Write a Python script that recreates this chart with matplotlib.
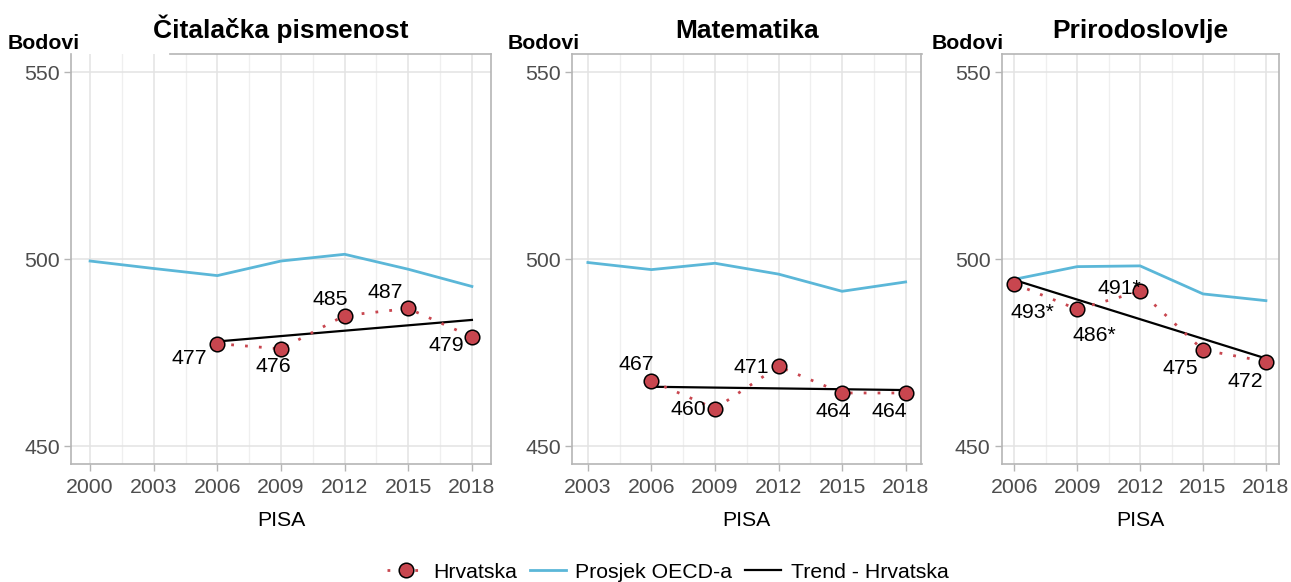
import matplotlib
matplotlib.use("Agg")
import matplotlib.pyplot as plt
import numpy as np
from matplotlib.lines import Line2D
from matplotlib.ticker import FixedLocator
from matplotlib.transforms import ScaledTranslation

plt.rcParams['font.family'] = ['Liberation Sans', 'DejaVu Sans']

# ---------------- data ----------------
titles = ["Čitalačka pismenost", "Matematika", "Prirodoslovlje"]

oecd_years_read = [2000, 2003, 2006, 2009, 2012, 2015, 2018]
oecd_read = [499.5, 497.5, 495.6, 499.5, 501.3, 497.3, 492.7]
oecd_years_math = [2003, 2006, 2009, 2012, 2015, 2018]
oecd_math = [499.1, 497.2, 498.9, 496.0, 491.4, 493.9]
oecd_years_sci = [2006, 2009, 2012, 2015, 2018]
oecd_sci = [494.6, 498.0, 498.2, 490.7, 488.9]

cro_years = [2006, 2009, 2012, 2015, 2018]
cro_read = [477.4, 476.0, 484.9, 486.8, 479.2]
cro_math = [467.4, 460.0, 471.3, 464.2, 464.2]
cro_sci = [493.4, 486.6, 491.4, 475.7, 472.6]

labels_read = ["477", "476", "485", "487", "479"]
labels_math = ["467", "460", "471", "464", "464"]
labels_sci = ["493*", "486*", "491*", "475", "472"]

ticks_read = [2000, 2003, 2006, 2009, 2012, 2015, 2018]
ticks_math = [2003, 2006, 2009, 2012, 2015, 2018]
ticks_sci = [2006, 2009, 2012, 2015, 2018]

# ---------------- style / layout ----------------
W, H = 1291, 582
fig = plt.figure(figsize=(W / 100, H / 100), dpi=100)

# axes boxes in pixels: left, right
boxes = [(71, 491), (572, 921.5), (1001.7, 1278.5)]
top_px, bot_px = 54.3, 464
bodovi_dx = [9, 8, 2]

panels = [
    (oecd_years_read, oecd_read, cro_read, labels_read, ticks_read),
    (oecd_years_math, oecd_math, cro_math, labels_math, ticks_math),
    (oecd_years_sci, oecd_sci, cro_sci, labels_sci, ticks_sci),
]

# label offsets in pixels (dx, dy) relative to point (screen, y up)
offsets = [
    [(-28, -15), (-8, -18), (-14, 16), (-23, 16), (-26, -9)],
    [(-15, 17), (-27, -1), (-27, -1), (-9, -19), (-16, -19)],
    [(18, -29), (17, -26), (-21, 3), (-23, -19), (-21, -20)],
]

FS = 15.3
red = "#C8464F"
blue = "#5BB7D8"
grid_major = "#E3E3E3"
grid_minor = "#EFEFEF"
border = "#B5B5B5"
tickcol = "#4D4D4D"

for i, (oy, ov, cv, labs, ticks) in enumerate(panels):
    l, r = boxes[i]
    ax = fig.add_axes([l / W, (H - bot_px) / H, (r - l) / W, (bot_px - top_px) / H])
    span = ticks[-1] - ticks[0]
    ax.set_xlim(ticks[0] - 0.05 * span, ticks[-1] + 0.05 * span)
    ax.set_ylim(445.2, 554.8)
    ax.set_xticks(ticks)
    ax.set_xticklabels([str(t) for t in ticks])
    ax.xaxis.set_minor_locator(FixedLocator([t + 1.5 for t in ticks[:-1]]))
    ax.set_yticks([450, 500, 550])
    ax.grid(True, which='major', color=grid_major, lw=1.1, zorder=0)
    ax.grid(True, which='minor', axis='x', color=grid_minor, lw=0.9, zorder=0)
    ax.tick_params(axis='both', which='major', labelsize=FS, labelcolor=tickcol,
                   color=border, length=5, width=1.0)
    ax.tick_params(axis='x', which='major', pad=5)
    ax.tick_params(axis='y', which='major', pad=3)
    ax.tick_params(axis='x', which='minor', length=0)
    for s in ax.spines.values():
        s.set_color(border)
        s.set_linewidth(1.2)
    if i == 0:
        ax.spines['top'].set_visible(False)
        ax.add_line(Line2D([0.236, 1], [1, 1], transform=ax.transAxes, color=border,
                           lw=1.2, clip_on=False))
    ax.set_axisbelow(True)

    # OECD line
    ax.plot(oy, ov, color=blue, lw=2.0, zorder=2)
    # trend line (linear fit of Croatia's scores)
    coef = np.polyfit(cro_years, cv, 1)
    xt = np.array([cro_years[0], cro_years[-1]])
    ax.plot(xt, np.polyval(coef, xt), color="black", lw=1.6, zorder=3)
    # Croatia
    ax.plot(cro_years, cv, color=red, lw=2.0, ls=(0, (1, 4)), zorder=4)
    ax.plot(cro_years, cv, ls='none', marker='o', ms=10.5, mfc=red, mec='black',
            mew=1.1, zorder=5)
    for (x, y, t, (dx, dy)) in zip(cro_years, cv, labs, offsets[i]):
        ax.annotate(t, (x, y), xytext=(dx, dy), textcoords='offset pixels',
                    ha='center', va='center', fontsize=FS, color='black', zorder=6)

    ax.set_xlabel("PISA", fontsize=FS, labelpad=10)
    ax.set_title(titles[i], fontsize=19, fontweight='bold', pad=12)
    ax.text(0.0, 1.0, "Bodovi", ha='right', va='center', fontsize=FS, fontweight='bold',
            transform=ax.transAxes + ScaledTranslation(bodovi_dx[i] / 100, 11 / 100,
                                                       fig.dpi_scale_trans))

handles = [
    Line2D([], [], color=red, lw=2.0, ls=(0, (1, 4)), marker='o', ms=10.5,
           mfc=red, mec='black', mew=1.1),
    Line2D([], [], color=blue, lw=2.0),
    Line2D([], [], color='black', lw=1.6),
]
fig.legend(handles, ["Hrvatska", "Prosjek OECD-a", "Trend - Hrvatska"],
           loc='center', bbox_to_anchor=(0.5175, 1 - 572 / H), ncol=3, frameon=False,
           fontsize=FS, handlelength=1.7, columnspacing=0.6, handletextpad=0.45)

fig.savefig("out.png", dpi=100)
